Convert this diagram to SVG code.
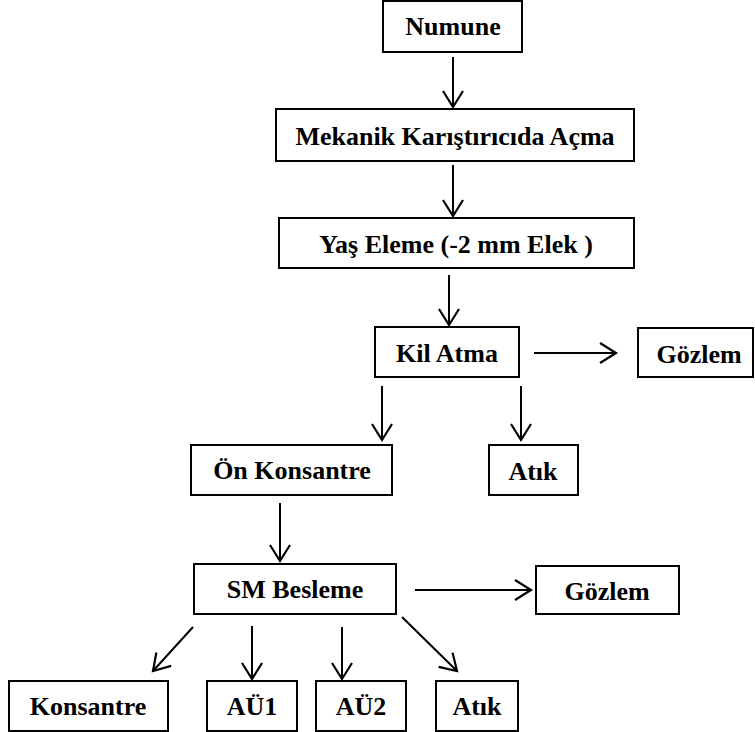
<svg xmlns="http://www.w3.org/2000/svg" width="755" height="732" viewBox="0 0 755 732">
<defs>
<style>
.box{fill:#fff;stroke:#000;stroke-width:2}
.t{font-family:"Liberation Serif","Times New Roman",serif;font-weight:bold;font-size:26px;text-anchor:middle;fill:#000}
.c{stroke:#000;stroke-width:2;fill:none;marker-end:url(#ah)}
</style>
<marker id="ah" markerUnits="userSpaceOnUse" markerWidth="24" markerHeight="24" refX="17" refY="11" orient="auto" viewBox="0 0 24 22">
<path d="M1,1 L17,11 L1,21" fill="none" stroke="#000" stroke-width="2.2"/>
</marker>
</defs>
<rect width="755" height="732" fill="#fff"/>
<g id="connectors">
<line class="c" x1="453" y1="57" x2="453" y2="107"/>
<line class="c" x1="453" y1="165" x2="453" y2="216"/>
<line class="c" x1="449" y1="275" x2="449" y2="325"/>
<line class="c" x1="534" y1="353" x2="616" y2="353"/>
<line class="c" x1="382" y1="386" x2="382" y2="440"/>
<line class="c" x1="521" y1="386" x2="521" y2="440"/>
<line class="c" x1="280" y1="503" x2="280" y2="561"/>
<line class="c" x1="415" y1="590" x2="531" y2="590"/>
<line class="c" x1="193" y1="627" x2="153" y2="671"/>
<line class="c" x1="252" y1="626" x2="252" y2="679"/>
<line class="c" x1="342" y1="627" x2="342" y2="679"/>
<line class="c" x1="402" y1="617" x2="457" y2="671"/>
</g>
<g id="numune"><rect class="box" x="383" y="1" width="139" height="51"/><text class="t" x="453" y="35">Numune</text></g>
<g id="mekanik"><rect class="box" x="276" y="109" width="358" height="52"/><text class="t" x="455" y="145">Mekanik Karıştırıcıda Açma</text></g>
<g id="yas-eleme"><rect class="box" x="279" y="218" width="355" height="50"/><text class="t" x="456" y="253">Yaş Eleme (-2 mm Elek )</text></g>
<g id="kil-atma"><rect class="box" x="375" y="327" width="144" height="50"/><text class="t" x="447" y="362">Kil Atma</text></g>
<g id="gozlem1"><rect class="box" x="638" y="328" width="115" height="49"/><text class="t" x="699" y="363">Gözlem</text></g>
<g id="on-konsantre"><rect class="box" x="191" y="445" width="201" height="50"/><text class="t" x="292" y="479">Ön Konsantre</text></g>
<g id="atik1"><rect class="box" x="489" y="445" width="89" height="50"/><text class="t" x="533" y="480">Atık</text></g>
<g id="sm-besleme"><rect class="box" x="194" y="564" width="202" height="50"/><text class="t" x="295" y="598">SM Besleme</text></g>
<g id="gozlem2"><rect class="box" x="536" y="566" width="143" height="48"/><text class="t" x="607" y="600">Gözlem</text></g>
<g id="konsantre"><rect class="box" x="9" y="681" width="159" height="50"/><text class="t" x="88" y="715">Konsantre</text></g>
<g id="au1"><rect class="box" x="207" y="681" width="90" height="50"/><text class="t" x="252" y="715">AÜ1</text></g>
<g id="au2"><rect class="box" x="316" y="681" width="90" height="50"/><text class="t" x="361" y="715">AÜ2</text></g>
<g id="atik2"><rect class="box" x="436" y="681" width="82" height="50"/><text class="t" x="477" y="715">Atık</text></g>
</svg>
